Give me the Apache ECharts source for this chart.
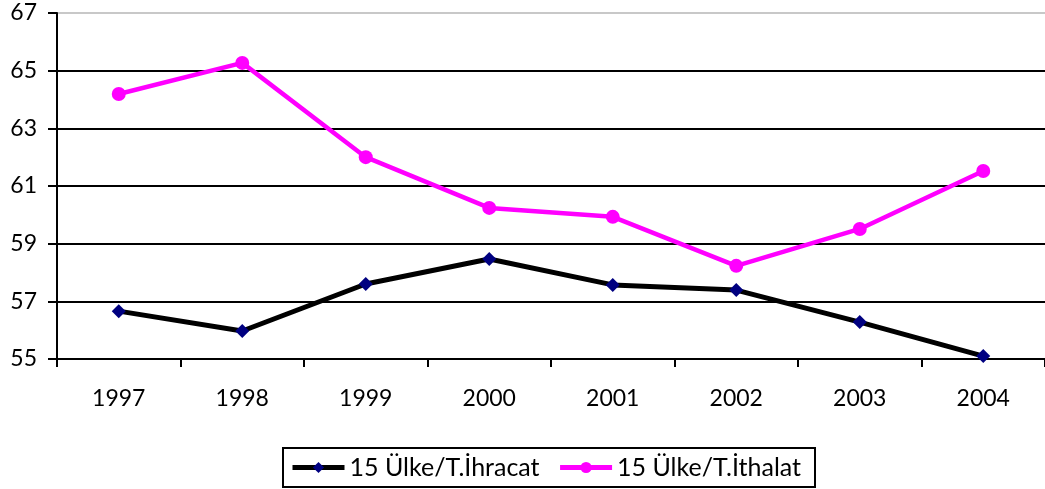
<!DOCTYPE html>
<html>
<head>
<meta charset="utf-8">
<script src="https://cdn.jsdelivr.net/npm/echarts@6/dist/echarts.min.js"></script>
<style>
  html, body { margin: 0; padding: 0; background: #fff; }
  #main { width: 1045px; height: 489px; }
</style>
</head>
<body>
<div id="main"></div>
<script>
var years = ['1997', '1998', '1999', '2000', '2001', '2002', '2003', '2004'];
var ihracat = [56.66, 55.97, 57.6, 58.47, 57.57, 57.39, 56.28, 55.1];
var ithalat = [64.19, 65.27, 62.0, 60.24, 59.93, 58.23, 59.51, 61.52];

var font = 'Lato, "DejaVu Sans", sans-serif';

var chart = echarts.init(document.getElementById('main'), null, { renderer: 'canvas' });

var option = {
  animation: false,
  backgroundColor: '#fff',
  grid: {
    left: 57,
    right: -7,
    top: 13,
    bottom: 130
  },
  legend: {
    bottom: 2,
    left: 283,
    itemWidth: 52,
    itemHeight: 14,
    itemGap: 18,
    padding: [7, 14, 7, 7],
    borderColor: '#000',
    borderWidth: 2,
    lineStyle: { width: 5 },
    textStyle: { fontFamily: font, fontSize: 25, color: '#000' },
    data: ['15 Ülke/T.İhracat', '15 Ülke/T.İthalat']
  },
  xAxis: {
    type: 'category',
    data: years,
    boundaryGap: true,
    axisLine: { lineStyle: { color: '#000', width: 2 } },
    axisTick: { show: true, length: 8, inside: false, lineStyle: { color: '#000', width: 2 } },
    axisLabel: { fontFamily: font, fontSize: 23, color: '#000', margin: 28 }
  },
  yAxis: {
    type: 'value',
    min: 55,
    max: 67,
    interval: 2,
    axisLine: { show: true, lineStyle: { color: '#000', width: 2 } },
    axisTick: { show: true, length: 9, lineStyle: { color: '#000', width: 2 } },
    axisLabel: { fontFamily: font, fontSize: 23, color: '#000', margin: 20 },
    splitLine: {
      show: true,
      lineStyle: { color: ['#000', '#000', '#000', '#000', '#000', '#000', '#c8c8c8'], width: 2 }
    }
  },
  series: [
    {
      name: '15 Ülke/T.İhracat',
      type: 'line',
      data: ihracat,
      symbol: 'diamond',
      symbolSize: 14,
      lineStyle: { color: '#000', width: 5 },
      itemStyle: { color: '#000080', borderWidth: 0 },
      z: 3
    },
    {
      name: '15 Ülke/T.İthalat',
      type: 'line',
      data: ithalat,
      symbol: 'circle',
      symbolSize: 14,
      lineStyle: { color: '#ff00ff', width: 4.5 },
      itemStyle: { color: '#ff00ff', borderWidth: 0 },
      z: 3
    }
  ]
};

chart.setOption(option);
</script>
</body>
</html>
